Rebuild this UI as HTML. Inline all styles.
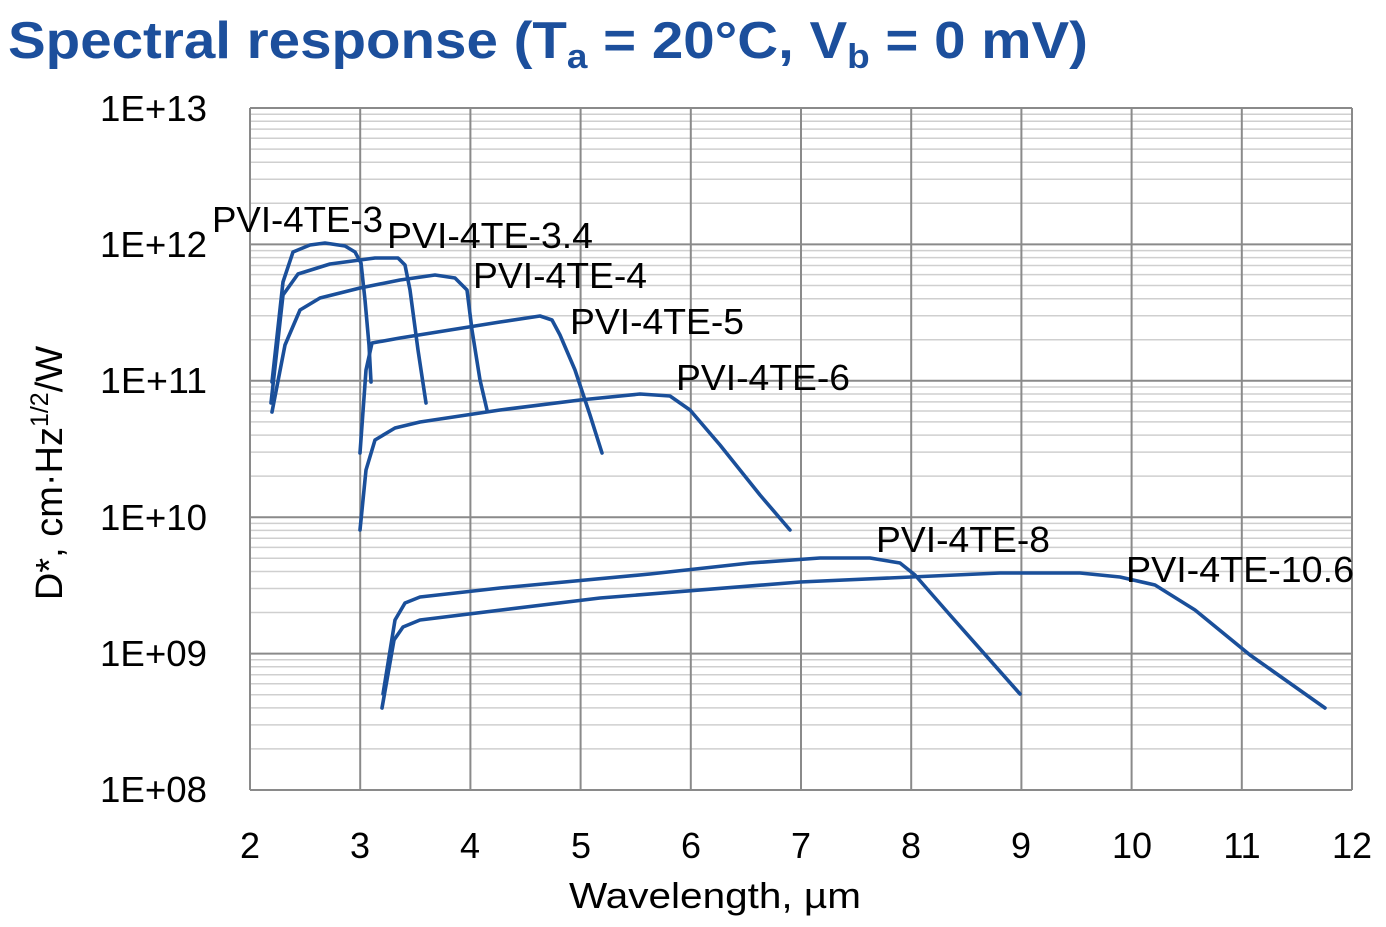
<!DOCTYPE html>
<html><head><meta charset="utf-8"><style>
html,body{margin:0;padding:0;background:#fff;}
svg{display:block;font-family:"Liberation Sans",sans-serif;}
</style></head><body>
<svg width="1386" height="927" viewBox="0 0 1386 927" xmlns="http://www.w3.org/2000/svg">
<defs>
<g id="dec" stroke="#cfcfcf" stroke-width="1.5">
<line x1="250" x2="1352" y1="6.2" y2="6.2"/><line x1="250" x2="1352" y1="13.2" y2="13.2"/>
<line x1="250" x2="1352" y1="21.1" y2="21.1"/><line x1="250" x2="1352" y1="30.2" y2="30.2"/>
<line x1="250" x2="1352" y1="41.1" y2="41.1"/><line x1="250" x2="1352" y1="54.3" y2="54.3"/>
<line x1="250" x2="1352" y1="71.3" y2="71.3"/><line x1="250" x2="1352" y1="95.3" y2="95.3"/>
</g>
</defs>
<text x="8" y="58" font-size="52" font-weight="bold" fill="#1c4f9c" textLength="1080" lengthAdjust="spacingAndGlyphs">Spectral response (T<tspan font-size="34" dy="10">a</tspan><tspan dy="-10"> = 20°C, V</tspan><tspan font-size="34" dy="10">b</tspan><tspan dy="-10"> = 0 mV)</tspan></text>
<use href="#dec" transform="translate(0,108)"/>
<use href="#dec" transform="translate(0,244.4)"/>
<use href="#dec" transform="translate(0,380.8)"/>
<use href="#dec" transform="translate(0,517.2)"/>
<use href="#dec" transform="translate(0,653.6)"/>
<g stroke="#8a8a8a" stroke-width="2">
<line x1="250" x2="250" y1="108" y2="790"/><line x1="360.2" x2="360.2" y1="108" y2="790"/>
<line x1="470.4" x2="470.4" y1="108" y2="790"/><line x1="580.6" x2="580.6" y1="108" y2="790"/>
<line x1="690.8" x2="690.8" y1="108" y2="790"/><line x1="801" x2="801" y1="108" y2="790"/>
<line x1="911.2" x2="911.2" y1="108" y2="790"/><line x1="1021.4" x2="1021.4" y1="108" y2="790"/>
<line x1="1131.6" x2="1131.6" y1="108" y2="790"/><line x1="1241.8" x2="1241.8" y1="108" y2="790"/>
<line x1="1352" x2="1352" y1="108" y2="790"/>
<line x1="250" x2="1352" y1="108" y2="108"/><line x1="250" x2="1352" y1="244.4" y2="244.4"/>
<line x1="250" x2="1352" y1="380.8" y2="380.8"/><line x1="250" x2="1352" y1="517.2" y2="517.2"/>
<line x1="250" x2="1352" y1="653.6" y2="653.6"/><line x1="250" x2="1352" y1="790" y2="790"/>
</g>
<g font-size="36" fill="#000" text-anchor="end">
<text x="207" y="121" textLength="107" lengthAdjust="spacingAndGlyphs">1E+13</text><text x="207" y="257" textLength="107" lengthAdjust="spacingAndGlyphs">1E+12</text><text x="207" y="393" textLength="107" lengthAdjust="spacingAndGlyphs">1E+11</text><text x="207" y="530" textLength="107" lengthAdjust="spacingAndGlyphs">1E+10</text><text x="207" y="666" textLength="107" lengthAdjust="spacingAndGlyphs">1E+09</text><text x="207" y="802" textLength="107" lengthAdjust="spacingAndGlyphs">1E+08</text>
</g>
<g font-size="36" fill="#000" text-anchor="middle">
<text x="250" y="858">2</text><text x="360" y="858">3</text><text x="470" y="858">4</text><text x="581" y="858">5</text><text x="691" y="858">6</text><text x="801" y="858">7</text><text x="911" y="858">8</text><text x="1021" y="858">9</text><text x="1132" y="858">10</text><text x="1242" y="858">11</text><text x="1352" y="858">12</text>
<text x="715" y="908" textLength="292" lengthAdjust="spacingAndGlyphs">Wavelength, µm</text>
<text transform="translate(62,473) rotate(-90)" font-size="38">D*, cm·Hz<tspan font-size="25" dy="-14">1/2</tspan><tspan dy="14">/W</tspan></text>
</g>
<g fill="none" stroke="#1a4f9a" stroke-width="3.6" stroke-linejoin="round" stroke-linecap="round">
<polyline points="272,382 283,282 293,252 310,245 325,243 345,246 355,252 361,263 365,300 369,345 371,382"/>
<polyline points="271,403 283,295 298,274 330,264 360,260 375,258 398,258 405,265 410,290 418,350 426,403"/>
<polyline points="272,412 285,345 300,310 320,298 360,288 400,280 435,275 455,278 467,290 472,330 480,380 487,410"/>
<polyline points="360,453 366,370 372,343 400,338 450,330 500,322 540,316 552,320 560,335 575,370 590,415 602,453"/>
<polyline points="360,530 366,470 375,440 395,428 420,422 500,410 580,400 640,394 670,396 690,410 720,445 760,495 790,530"/>
<polyline points="383,694 395,620 405,603 420,597 500,588 650,574 750,563 820,558 870,558 900,563 915,575 950,615 1020,694"/>
<polyline points="382,708 394,640 403,627 420,620 600,598 800,582 1000,573 1080,573 1120,577 1155,585 1195,610 1250,655 1325,708"/>
</g>
<g font-size="36" fill="#000">
<text x="212" y="232" textLength="171" lengthAdjust="spacingAndGlyphs">PVI-4TE-3</text>
<text x="387" y="248" textLength="206" lengthAdjust="spacingAndGlyphs">PVI-4TE-3.4</text>
<text x="473" y="288" textLength="174" lengthAdjust="spacingAndGlyphs">PVI-4TE-4</text>
<text x="570" y="334" textLength="174" lengthAdjust="spacingAndGlyphs">PVI-4TE-5</text>
<text x="676" y="390" textLength="174" lengthAdjust="spacingAndGlyphs">PVI-4TE-6</text>
<text x="876" y="552" textLength="174" lengthAdjust="spacingAndGlyphs">PVI-4TE-8</text>
<text x="1126" y="582" textLength="228" lengthAdjust="spacingAndGlyphs">PVI-4TE-10.6</text>
</g>
</svg>
</body></html>
